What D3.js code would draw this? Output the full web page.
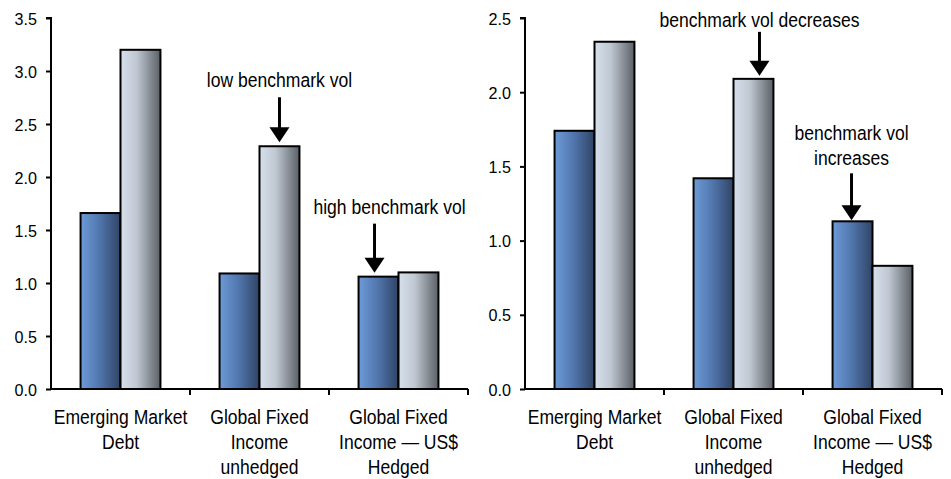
<!DOCTYPE html>
<html>
<head>
<meta charset="utf-8">
<script src="https://cdn.jsdelivr.net/npm/d3@7"></script>
<style>
  html, body { margin: 0; padding: 0; background: #fff; }
  svg { display: block; }
  text { font-family: "Liberation Sans", Arial, sans-serif; fill: #000; }
</style>
</head>
<body>
<svg id="chart" width="951" height="479"></svg>
<script>
// Categories shared by both panels
const categories = [
  ["Emerging Market", "Debt"],
  ["Global Fixed", "Income", "unhedged"],
  ["Global Fixed", "Income \u2014 US$", "Hedged"]
];
const categoryKeys = ["EMD", "GFI", "GFIH"];
const seriesKeys = ["blue", "gray"];

// Left panel values
const leftBlue = [1.66, 1.09, 1.06];
const leftGray = [3.20, 2.29, 1.10];
const leftTicks = [0, 0.5, 1.0, 1.5, 2.0, 2.5, 3.0, 3.5];

// Right panel values
const rightBlue = [1.74, 1.42, 1.13];
const rightGray = [2.34, 2.09, 0.83];
const rightTicks = [0, 0.5, 1.0, 1.5, 2.0, 2.5];

// Annotations: category index, series, label lines
const leftNotes = [
  { cat: 1, series: "gray", lines: ["low benchmark vol"], dx: 0, textDx: 0, gap: 4, shaft: 45, textGap: 10 },
  { cat: 2, series: "blue", lines: ["high benchmark vol"], dx: -4, textDx: 15, gap: 4, shaft: 49, textGap: 10 }
];
const rightNotes = [
  { cat: 1, series: "gray", lines: ["benchmark vol decreases"], dx: 6, textDx: 0, gap: 3, shaft: 44, textGap: 5 },
  { cat: 2, series: "blue", lines: ["benchmark vol", "increases"], dx: -1, textDx: 0, gap: 1, shaft: 47, textGap: 8 }
];

// Narrow lettering: regular sans squeezed horizontally
const SQUEEZE = 0.9;

const svg = d3.select("#chart");
const defs = svg.append("defs");

function gradient(id, stops) {
  const g = defs.append("linearGradient").attr("id", id)
    .attr("x1", "0%").attr("x2", "100%").attr("y1", "0%").attr("y2", "0%");
  stops.forEach(([o, c]) => g.append("stop").attr("offset", o).attr("stop-color", c));
}
gradient("gBlue", [["0%", "#6d9bd7"], ["45%", "#5378b0"], ["100%", "#2f4465"]]);
gradient("gGray", [["0%", "#d6e0ec"], ["40%", "#c0c8d2"], ["100%", "#5b6066"]]);
const fills = { blue: "url(#gBlue)", gray: "url(#gGray)" };

// Multi-line centred label, squeezed about its centre line
function label(g, cx, baseY, lines, lineH, size) {
  const t = g.append("text").attr("text-anchor", "middle")
    .attr("transform", `translate(${cx},0) scale(${SQUEEZE},1)`)
    .style("font-size", size + "px");
  lines.forEach((line, j) => {
    t.append("tspan").attr("x", 0).attr("y", baseY + j * lineH).text(line);
  });
  return t;
}

function panel(opts) {
  const { x0, x1, yTop, yBottom, maxV, ticks, blue, gray, notes } = opts;
  const g = svg.append("g");

  const x = d3.scaleBand().domain(categoryKeys).range([x0, x1]).padding(0);
  const inner = d3.scaleBand().domain(seriesKeys).range([0, x.bandwidth()])
    .paddingInner(0).paddingOuter(0.74);
  const y = d3.scaleLinear().domain([0, maxV]).range([yBottom, yTop]);

  const rows = categoryKeys.map((k, i) => ({ key: k, blue: blue[i], gray: gray[i] }));

  // Bars
  const groups = g.selectAll("g.cat").data(rows).join("g")
    .attr("class", "cat")
    .attr("transform", d => `translate(${x(d.key)},0)`);
  groups.selectAll("rect").data(d => seriesKeys.map(s => ({ s, v: d[s] }))).join("rect")
    .attr("x", d => inner(d.s))
    .attr("width", inner.bandwidth())
    .attr("y", d => y(d.v))
    .attr("height", d => y(0) - y(d.v))
    .attr("fill", d => fills[d.s])
    .attr("stroke", "#000")
    .attr("stroke-width", 2);

  // Y axis
  const yAxis = d3.axisLeft(y).tickValues(ticks).tickFormat(d3.format(".1f"))
    .tickSize(5).tickPadding(0);
  const ya = g.append("g").attr("transform", `translate(${x0},0)`).call(yAxis);
  ya.select(".domain").attr("stroke", "#000").attr("stroke-width", 2)
    .attr("d", `M-5,${yTop}H0V${yBottom}`);
  ya.selectAll(".tick line").attr("stroke", "#000").attr("stroke-width", 2);
  ya.selectAll(".tick text")
    .style("font-size", "17px")
    .attr("x", 0)
    .attr("dy", "0.36em")
    .attr("transform", "translate(-14,0) scale(0.95,1)");

  // X axis: baseline with ticks at category boundaries
  const bounds = categoryKeys.slice(1).map(k => x(k)).concat([x1]);
  g.append("line").attr("x1", x0).attr("x2", x1).attr("y1", y(0)).attr("y2", y(0))
    .attr("stroke", "#000").attr("stroke-width", 2);
  g.selectAll("line.xt").data(bounds).join("line").attr("class", "xt")
    .attr("x1", d => d).attr("x2", d => d)
    .attr("y1", y(0)).attr("y2", y(0) + 6)
    .attr("stroke", "#000").attr("stroke-width", 2);

  // Category labels
  categoryKeys.forEach((k, i) => {
    label(g, x(k) + x.bandwidth() / 2, y(0) + 35, categories[i], 25, 19.5);
  });

  // Annotations with arrows pointing at bar tops
  notes.forEach(n => {
    const k = categoryKeys[n.cat];
    const v = (n.series === "blue" ? blue : gray)[n.cat];
    const cx = x(k) + inner(n.series) + inner.bandwidth() / 2 + n.dx;
    const tipY = y(v) - n.gap;
    const headH = 15, headW = 20;
    g.append("line").attr("x1", cx).attr("x2", cx)
      .attr("y1", tipY - n.shaft).attr("y2", tipY - headH + 1)
      .attr("stroke", "#000").attr("stroke-width", 3);
    g.append("path")
      .attr("d", `M${cx - headW / 2},${tipY - headH}L${cx + headW / 2},${tipY - headH}L${cx},${tipY}Z`)
      .attr("fill", "#000");
    const nLines = n.lines.length;
    label(g, cx + n.textDx, tipY - n.shaft - n.textGap - (nLines - 1) * 25, n.lines, 25, 19.5);
  });
}

panel({ x0: 51, x1: 468, yTop: 18, yBottom: 389, maxV: 3.5, ticks: leftTicks,
        blue: leftBlue, gray: leftGray, notes: leftNotes });
panel({ x0: 525, x1: 942, yTop: 18, yBottom: 389, maxV: 2.5, ticks: rightTicks,
        blue: rightBlue, gray: rightGray, notes: rightNotes });
</script>
</body>
</html>
